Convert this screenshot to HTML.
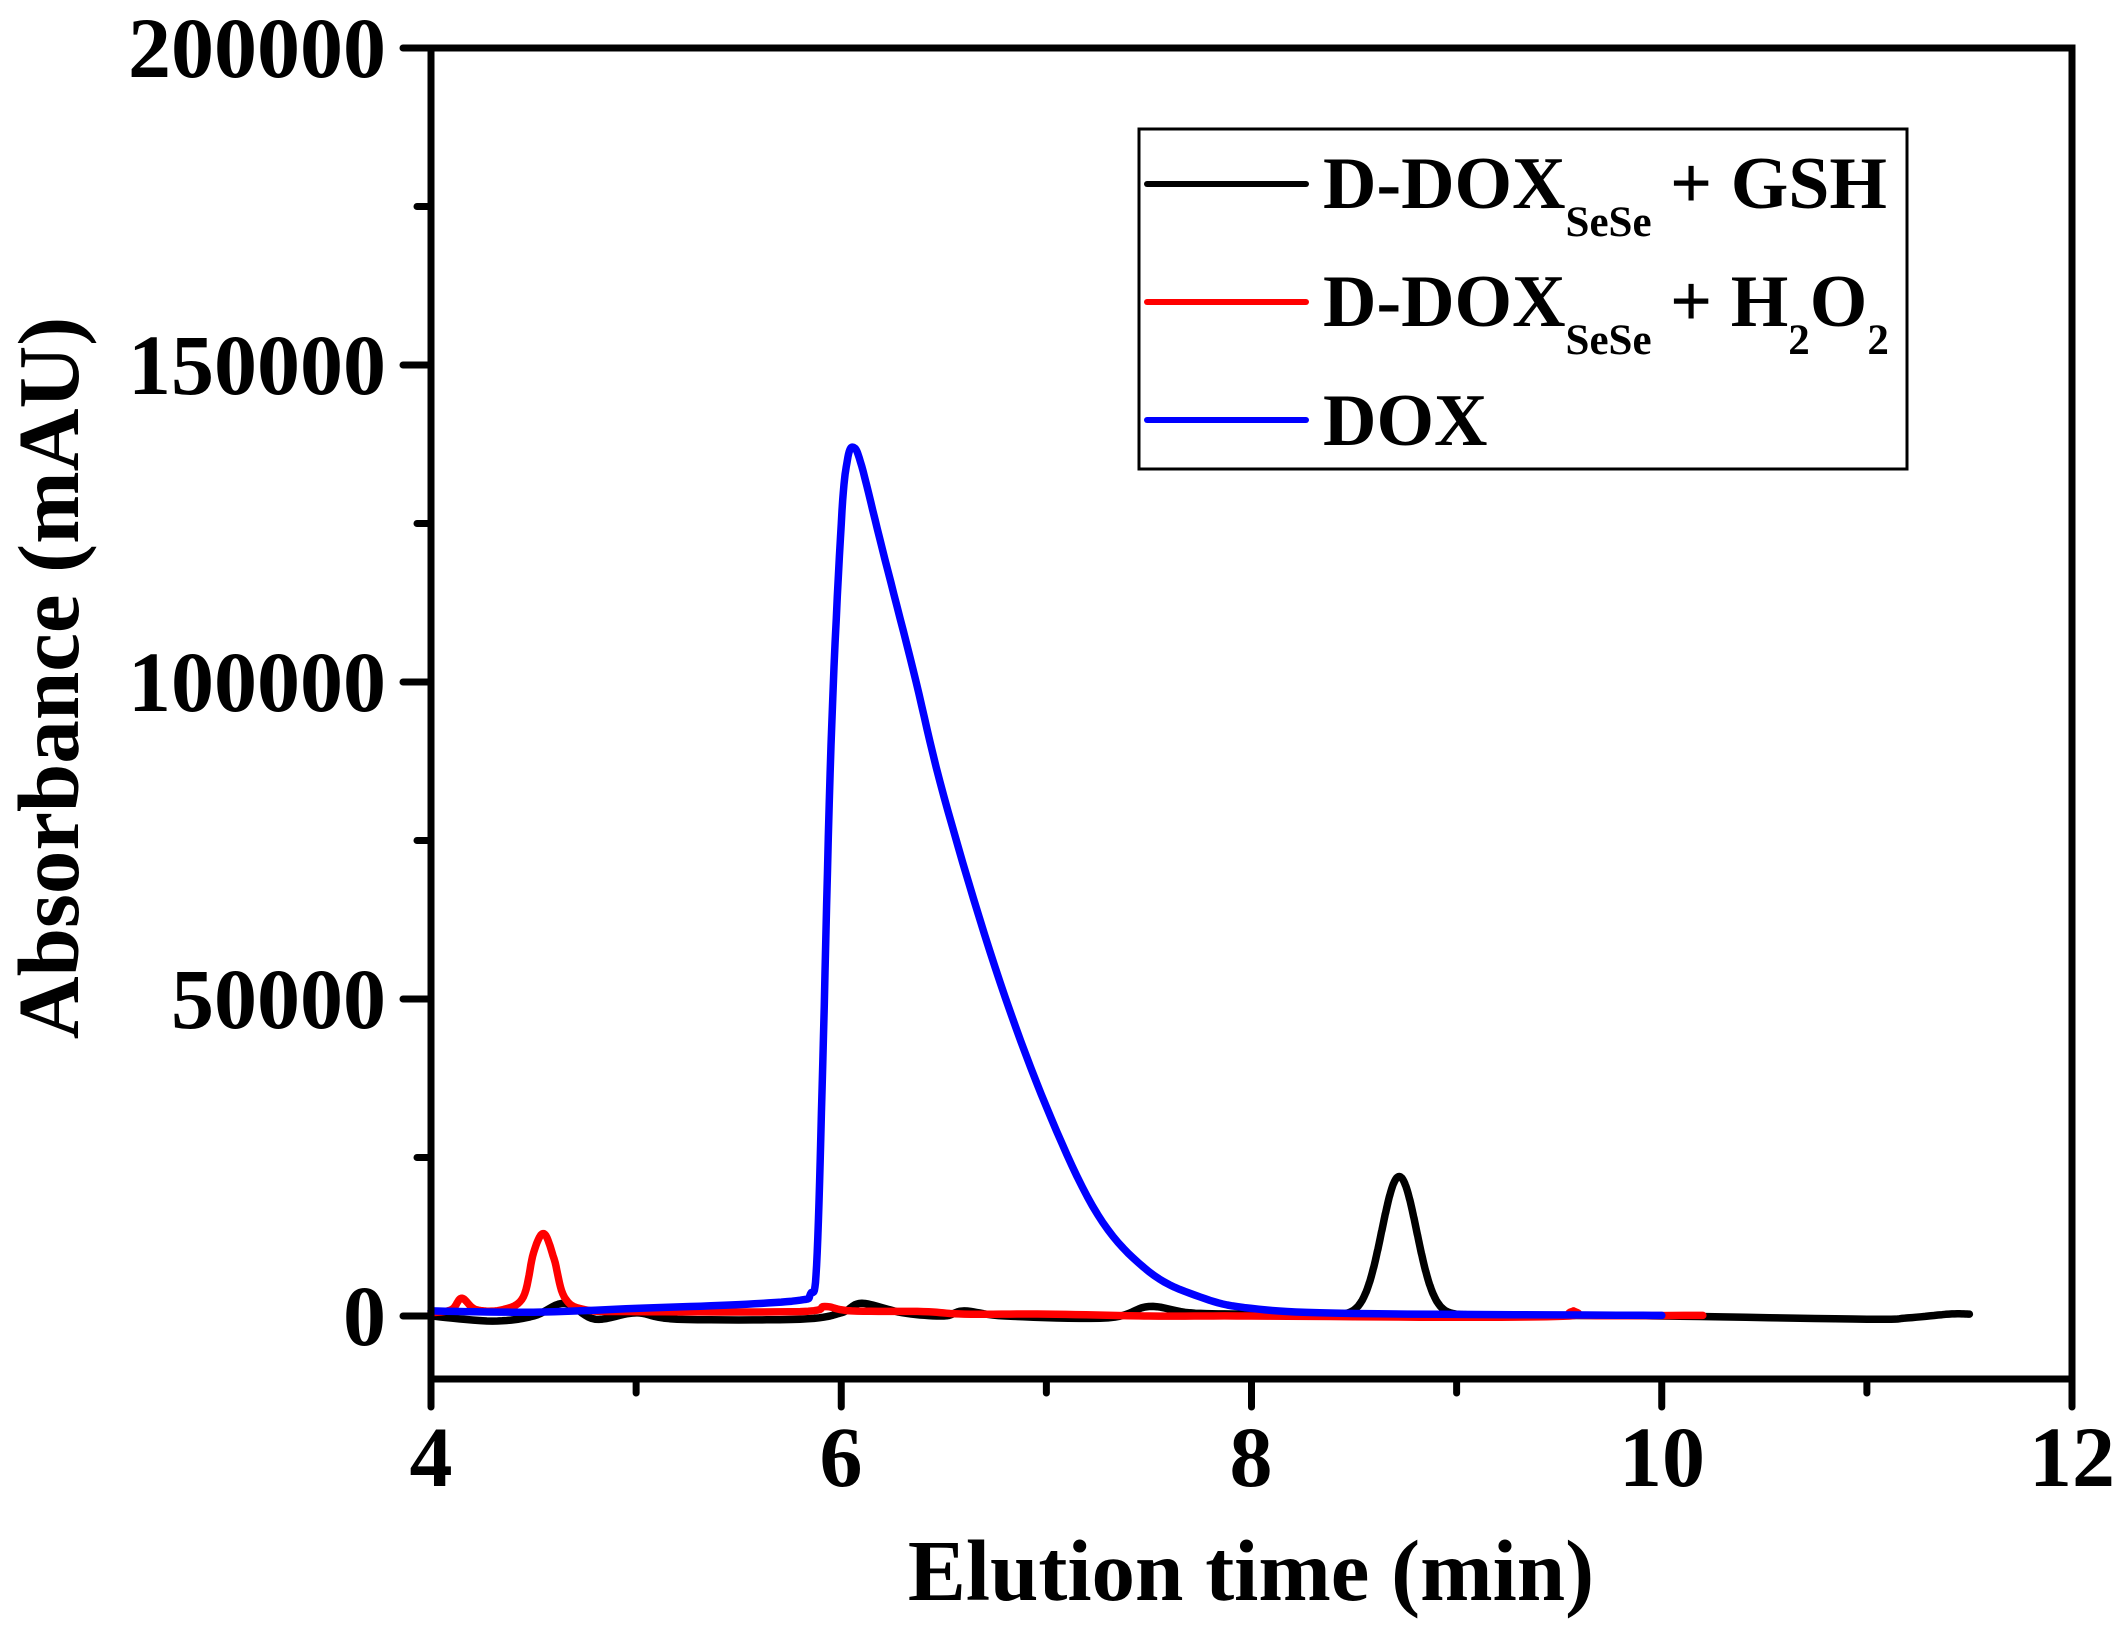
<!DOCTYPE html>
<html><head><meta charset="utf-8"><style>
html,body{margin:0;padding:0;background:#fff}
svg{display:block}
text{font-family:"Liberation Serif",serif;font-weight:bold;fill:#000}
</style></head><body>
<svg id="s" width="2128" height="1632" viewBox="0 0 2128 1632" xmlns="http://www.w3.org/2000/svg">
<g id="curves" fill="none" stroke-width="7.5" stroke-linejoin="round" stroke-linecap="round"></g>
<rect x="431" y="48" width="1641" height="1331" fill="none" stroke="#000" stroke-width="7"/>
<g id="ticks" stroke="#000" stroke-width="7" stroke-linecap="round"></g>
<g font-size="86" text-anchor="end">
<text x="386" y="77">200000</text>
<text x="386" y="394">150000</text>
<text x="386" y="711">100000</text>
<text x="386" y="1028">50000</text>
<text x="386" y="1345">0</text>
</g>
<g font-size="86" text-anchor="middle">
<text x="431" y="1486">4</text>
<text x="841" y="1486">6</text>
<text x="1251" y="1486">8</text>
<text x="1662" y="1486">10</text>
<text x="2072" y="1486">12</text>
</g>
<text x="1251" y="1600" font-size="87" text-anchor="middle">Elution time (min)</text>
<text transform="translate(78,678) rotate(-90)" font-size="87" text-anchor="middle">Absorbance (mAU)</text>
<rect x="1139" y="129" width="768" height="340" fill="#fff" stroke="#000" stroke-width="3"/>
<g stroke-width="6" stroke-linecap="round">
<line x1="1147" y1="184" x2="1306" y2="184" stroke="#000"/>
<line x1="1147" y1="302" x2="1306" y2="302" stroke="#f00"/>
<line x1="1147" y1="420" x2="1306" y2="420" stroke="#00f"/>
</g>
<g font-size="74">
<text x="1323" y="208">D-DOX<tspan font-size="43" dy="28">SeSe</tspan><tspan dy="-28"> + GSH</tspan></text>
<text x="1323" y="326">D-DOX<tspan font-size="43" dy="28">SeSe</tspan><tspan dy="-28"> + H</tspan><tspan font-size="43" dy="28">2</tspan><tspan dy="-28">O</tspan><tspan font-size="43" dy="28">2</tspan></text>
<text x="1323" y="445">DOX</text>
</g>
</svg>
<script>
var NS="http://www.w3.org/2000/svg";
function X(t){return 431+(t-4)*205.125}
function Y(v){return 1316-v*0.00634}
var blue=[[4,800],[4.5,600],[5,1200],[5.5,1800],[5.8,2500],[5.85,3500],[5.88,8000],[5.91,40000],[5.95,90000],[6,125000],[6.03,135000],[6.06,137000],[6.1,134000],[6.2,121000],[6.35,102000],[6.5,82000],[6.75,55000],[7,33000],[7.25,16000],[7.5,7000],[7.75,3000],[8,1200],[8.5,400],[10,100]];
var black=[[4,0],[4.3,-800],[4.5,0],[4.65,2000],[4.8,-500],[5,500],[5.2,-500],[5.8,-500],[6,500],[6.1,2000],[6.3,500],[6.5,0],[6.6,800],[6.8,0],[7.3,-300],[7.5,1500],[7.7,500],[8,300],[8.4,300]];
for(var t=8.42;t<=9.2;t+=0.02){black.push([t,200+21800*Math.exp(-Math.pow(t-8.72,2)/(2*0.085*0.085))])}
black=black.concat([[9.4,100],[10,0],[11,-500],[11.2,-300],[11.4,300],[11.5,300]]);
var red=[[4,500],[4.1,1000],[4.15,2800],[4.22,1000],[4.35,1000],[4.45,3000],[4.5,10000],[4.55,13000],[4.6,9000],[4.65,3000],[4.75,1000],[5,700],[5.8,700],[5.92,1500],[6.05,800],[6.4,700],[6.6,300],[7,300],[7.5,0],[8,0],[9,-200],[9.55,0],[9.57,800],[9.6,100],[10.2,100]];
function dense(p){var o=[];for(var i=0;i<p.length-1;i++){var a=p[Math.max(i-1,0)],b=p[i],c=p[i+1],d=p[Math.min(i+2,p.length-1)];for(var k=0;k<10;k++){var s=k/10,s2=s*s,s3=s2*s;function cr(a,b,c,d){return 0.5*((2*b)+(-a+c)*s+(2*a-5*b+4*c-d)*s2+(-a+3*b-3*c+d)*s3)}o.push([cr(a[0],b[0],c[0],d[0]),cr(a[1],b[1],c[1],d[1])])}}o.push(p[p.length-1]);return o}
var g=document.getElementById("curves");
[[black,"#000"],[red,"#f00"],[blue,"#00f"]].forEach(function(s){var pl=document.createElementNS(NS,"polyline");pl.setAttribute("points",dense(s[0]).map(function(q){return X(q[0]).toFixed(1)+","+Y(q[1]).toFixed(1)}).join(" "));pl.setAttribute("stroke",s[1]);g.appendChild(pl)});
var tg=document.getElementById("ticks");
function L(x1,y1,x2,y2){var l=document.createElementNS(NS,"line");l.setAttribute("x1",x1);l.setAttribute("y1",y1);l.setAttribute("x2",x2);l.setAttribute("y2",y2);tg.appendChild(l)}
for(var t=4;t<=12;t++){L(X(t),1379,X(t),t%2==0?1407:1393)}
for(var v=0;v<=200000;v+=25000){L(431,Y(v),v%50000==0?403:417,Y(v))}
</script>
</body></html>
